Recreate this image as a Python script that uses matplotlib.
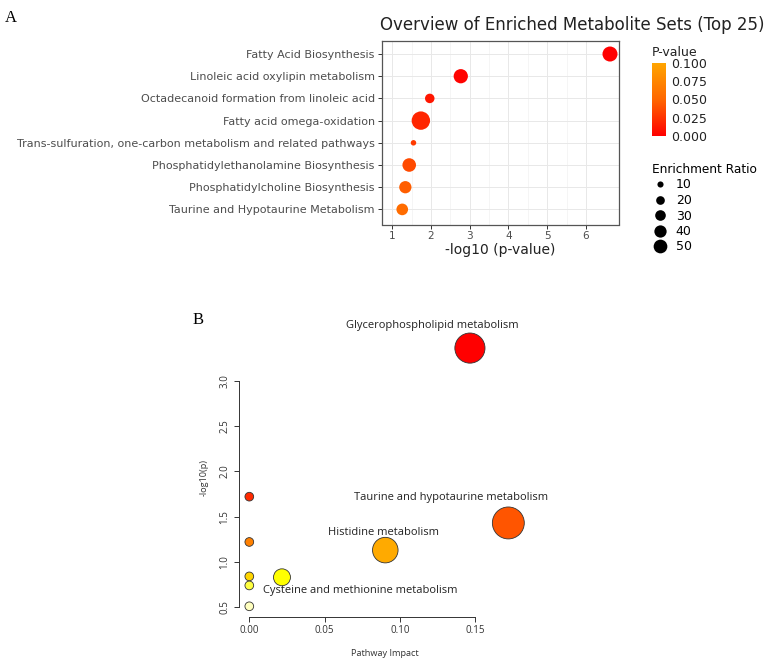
import numpy as np
import matplotlib
matplotlib.use('Agg')
import matplotlib.pyplot as plt
from matplotlib.colors import LinearSegmentedColormap, Normalize, hsv_to_rgb
from matplotlib.cm import ScalarMappable
from matplotlib.lines import Line2D

# ---- panel A: enrichment overview ----
set_names = ['Fatty Acid Biosynthesis',
             'Linoleic acid oxylipin metabolism',
             'Octadecanoid formation from linoleic acid',
             'Fatty acid omega-oxidation',
             'Trans-sulfuration, one-carbon metabolism and related pathways',
             'Phosphatidylethanolamine Biosynthesis',
             'Phosphatidylcholine Biosynthesis',
             'Taurine and Hypotaurine Metabolism']
set_log_p = [6.62, 2.77, 1.97, 1.74, 1.55, 1.44, 1.34, 1.26]
set_ratio = [60, 54, 24, 90, 8, 49, 40, 36]
ratio_breaks = [10, 20, 30, 40, 50]
pval_ticks = [0.0, 0.025, 0.05, 0.075, 0.1]
xticks_a = [1, 2, 3, 4, 5, 6]

# ---- panel B: pathway impact ----
path_names = ['Glycerophospholipid metabolism',
              'Taurine and hypotaurine metabolism',
              'Histidine metabolism',
              'Cysteine and methionine metabolism',
              '', '', '', '', '']
path_impact = [0.1465, 0.172, 0.0903, 0.0217, 0.0, 0.0, 0.0, 0.0, 0.0]
path_log_p = [3.36, 1.43, 1.13, 0.83, 1.72, 1.22, 0.84, 0.74, 0.51]
xticks_b = [0.0, 0.05, 0.10, 0.15]
yticks_b = [0.5, 1.0, 1.5, 2.0, 2.5, 3.0]

W, H = 768, 665
fig = plt.figure(figsize=(W / 100, H / 100), dpi=100)


def box(x0, y0, x1, y1):
    # pixel box (top-left origin) -> figure fraction rect
    return [x0 / W, 1 - y1 / H, (x1 - x0) / W, (y1 - y0) / H]


def heat_colors(n):
    # same as R's heat.colors()
    j = n // 4
    i = n - j
    cols = [hsv_to_rgb((h, 1, 1)) for h in np.linspace(0, 1 / 6, i)]
    cols += [hsv_to_rgb((1 / 6, s, 1)) for s in np.linspace(1 - 1 / (2 * j), 1 / (2 * j), j)]
    return cols


# ================= A =================
grey30 = '#4d4d4d'
axA = fig.add_axes(box(381.7, 40.7, 619.3, 224.5))
ypos = np.arange(len(set_names))[::-1]
pvals = 10 ** (-np.array(set_log_p))
cmap = LinearSegmentedColormap.from_list('rp', ['#FF0000', '#FF6600', '#FFA500'])
norm = Normalize(0, 0.1)
size_k = 1.95
axA.scatter(set_log_p, ypos, s=size_k * np.array(set_ratio), c=pvals, cmap=cmap, norm=norm,
            edgecolors='none', zorder=3)
axA.set_xlim(0.73, 6.86)
axA.set_ylim(-0.68, len(set_names) - 0.4)
axA.set_yticks(ypos)
axA.set_yticklabels(set_names)
axA.set_xticks(xticks_a)
axA.set_xticks([1.5, 2.5, 3.5, 4.5, 5.5], minor=True)
axA.grid(True, which='major', color='#e8e8e8', lw=0.7, zorder=0)
axA.grid(True, which='minor', axis='x', color='#f2f2f2', lw=0.5, zorder=0)
axA.set_axisbelow(True)
for sp in axA.spines.values():
    sp.set_color('#555555')
    sp.set_linewidth(0.9)
axA.tick_params(which='major', length=3, width=0.7, color='#333333', labelcolor=grey30,
                labelsize=8, pad=2)
axA.tick_params(axis='x', labelsize=7.6)
axA.tick_params(which='minor', length=0)
axA.set_xlabel('-log10 (p-value)', fontsize=10, color='#222222', labelpad=1)
axA.set_title('Overview of Enriched Metabolite Sets (Top 25)', fontsize=12, color='#222222',
              pad=8, loc='left', x=-0.008)

# colour bar
cax = fig.add_axes(box(652, 63, 666, 136))
cb = fig.colorbar(ScalarMappable(norm=norm, cmap=cmap), cax=cax, ticks=pval_ticks)
cb.outline.set_visible(False)
cb.ax.set_yticklabels(['%.3f' % t for t in pval_ticks])
cb.ax.tick_params(length=0, labelsize=9, labelcolor='#222222', pad=4)
fig.text(652 / W, 1 - 52 / H, 'P-value', fontsize=9, color='#222222', va='center', ha='left')

# size legend
handles = [Line2D([], [], ls='none', marker='o', color='black', markeredgewidth=0,
                  markersize=np.sqrt(size_k * v)) for v in ratio_breaks]
fig.legend(handles, [str(v) for v in ratio_breaks], title='Enrichment Ratio',
           loc='upper left', bbox_to_anchor=(647 / W, 1 - 158 / H), frameon=False,
           fontsize=9, title_fontsize=8.7, labelspacing=0.2, handletextpad=0.6,
           handlelength=1.3, alignment='left', borderaxespad=0)

fig.text(5 / W, 1 - 18 / H, 'A', family='Liberation Serif', fontsize=12, va='center')

# ================= B =================
fig.text(193 / W, 1 - 320 / H, 'B', family='Liberation Serif', fontsize=12, va='center', ha='left')

x0_px, y_axis_px = 249.3, 616.7
px_per_x = 1506.0
px_per_y = 90.6
left_px, right_px, top_px = 239.3, 530.0, 310.0
axB = fig.add_axes(box(left_px, top_px, right_px, y_axis_px))
axB.set_xlim((left_px - x0_px) / px_per_x, (right_px - x0_px) / px_per_x)
axB.set_ylim(3.0 - (y_axis_px - 380.7) / px_per_y, 3.0 + (380.7 - top_px) / px_per_y)
axB.patch.set_alpha(0)

order = np.argsort(-np.array(path_log_p))
heat = heat_colors(len(path_log_p))
colors_b = [None] * len(path_log_p)
for rank, idx in enumerate(order):
    colors_b[idx] = heat[rank]
diam_px = 8.7 + 56 * np.sqrt(np.array(path_impact))
axB.scatter(path_impact, path_log_p, s=(0.72 * diam_px) ** 2, c=colors_b,
            edgecolors='#333333', linewidths=0.6, zorder=3, clip_on=False)

label_offsets = [(-38, 23), (-57, 25), (-2, 18), (78, -13)]
for name, xv, yv, off in zip(path_names, path_impact, path_log_p, label_offsets):
    axB.annotate(name, (xv, yv), xytext=off, textcoords='offset pixels', ha='center',
                 va='center', fontsize=8, family='Open Sans', color='#222222',
                 annotation_clip=False)

for side in ['top', 'right']:
    axB.spines[side].set_visible(False)
axB.spines['left'].set_bounds(yticks_b[0], yticks_b[-1])
axB.spines['bottom'].set_bounds(xticks_b[0], xticks_b[-1])
for side in ['left', 'bottom']:
    axB.spines[side].set_color('#333333')
    axB.spines[side].set_linewidth(0.7)
axB.set_xticks(xticks_b)
axB.set_xticklabels(['%.2f' % t for t in xticks_b])
axB.set_yticks(yticks_b)
axB.set_yticklabels(['%.1f' % t for t in yticks_b], rotation=90, va='center')
axB.tick_params(length=3.3, width=0.7, color='#333333', labelsize=7, labelcolor='#333333',
                pad=3)
for lab in axB.get_xticklabels() + axB.get_yticklabels():
    lab.set_family('Open Sans')
axB.set_xlabel('Pathway Impact', fontsize=6.6, family='Open Sans', color='#333333', labelpad=9)
axB.set_ylabel('-log10(p)', fontsize=6.6, family='Open Sans', color='#333333', labelpad=9)
axB.yaxis.set_label_coords(-0.105, (y_axis_px - 477) / (y_axis_px - top_px))

fig.savefig('out.png', dpi=100)
